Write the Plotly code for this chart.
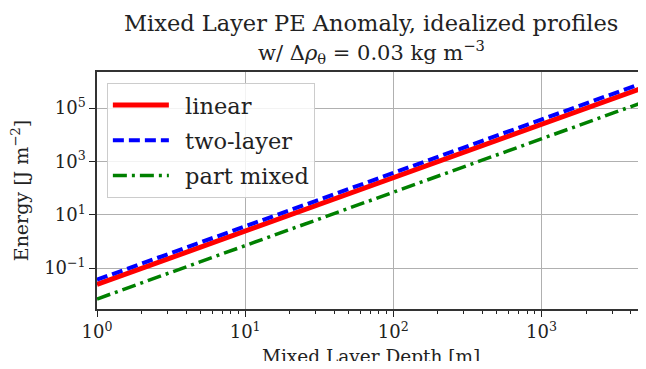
import plotly.graph_objects as go

# Data (log-log straight lines)
depth = [1, 10, 100, 1000, 5000]
linear = [0.0245, 2.45, 245.0, 24500.0, 612500.0]
two_layer = [0.037, 3.7, 370.0, 37000.0, 925000.0]
part_mixed = [0.007, 0.7, 70.0, 7000.0, 175000.0]
series_names = ["\u2002linear", "\u2002two-layer", "\u2002part mixed"]

x_tickvals = [1, 10, 100, 1000]
x_ticktext = ["10<sup>0</sup>", "10<sup>1</sup>", "10<sup>2</sup>", "10<sup>3</sup>"]
y_tickvals = [0.1, 10, 1000, 100000]
y_ticktext = ["10<sup>\u22121</sup>", "10<sup>1</sup>", "10<sup>3</sup>", "10<sup>5</sup>"]

minor_x = []
for dec in [1, 10, 100, 1000]:
    for m in range(2, 10):
        v = dec * m
        if v <= 5000:
            minor_x.append(v)

FONT = "DejaVu Serif"

fig = go.Figure()
fig.add_trace(go.Scatter(x=depth, y=linear, mode="lines", name=series_names[0],
                         legendgroup="a",
                         line=dict(color="#ff0000", width=5)))
fig.add_trace(go.Scatter(x=depth, y=two_layer, mode="lines", name=series_names[1],
                         legendgroup="b",
                         line=dict(color="#0000ff", width=4, dash="11px,5px")))
fig.add_trace(go.Scatter(x=depth, y=part_mixed, mode="lines", name=series_names[2],
                         legendgroup="c",
                         line=dict(color="#008000", width=3.5, dash="14px,5px,3px,5px")))

# The page body has an 8px default margin, so the figure is made smaller
# and margins reduced so the plot lands where the reference has it
# (and no scrollbar appears).
fig.update_layout(
    width=638, height=353,
    margin=dict(l=89, r=1, t=64, b=52, autoexpand=False),
    paper_bgcolor="white", plot_bgcolor="white",
    font=dict(family=FONT, color="#222222", size=16),
    showlegend=True,
    legend=dict(
        x=0.018, y=0.954, xanchor="left", yanchor="top",
        bgcolor="rgba(255,255,255,0.85)", bordercolor="#cccccc", borderwidth=1,
        font=dict(family=FONT, size=22.5, color="#222222"),
        tracegroupgap=3, itemwidth=56,
    ),
    annotations=[
        dict(text="Mixed Layer PE Anomaly, idealized profiles",
             xref="paper", yref="paper", x=0.5, y=1.0, yshift=49,
             xanchor="center", yanchor="middle", showarrow=False,
             font=dict(family=FONT, size=22.5, color="#222222")),
        dict(text="w/ \u0394<i>\u03c1</i><sub>\u03b8</sub> = 0.03 kg m<sup>\u22123</sup>",
             xref="paper", yref="paper", x=0.5, y=1.0, yshift=20,
             xanchor="center", yanchor="middle", showarrow=False,
             font=dict(family=FONT, size=21, color="#222222")),
        dict(text="Mixed Layer Depth [m]",
             xref="paper", yref="paper", x=0.5, y=0.0, yshift=-47,
             xanchor="center", yanchor="middle", showarrow=False,
             font=dict(family=FONT, size=18.5, color="#222222")),
    ],
)

fig.update_xaxes(
    type="log", range=[0, 3.699], automargin=False,
    tickvals=x_tickvals, ticktext=x_ticktext,
    ticks="outside", ticklen=6, tickwidth=1.2, tickcolor="#222222",
    showgrid=True, gridcolor="#b0b0b0", gridwidth=1.3,
    showline=True, linecolor="#333333", linewidth=1.5, mirror=True,
    minor=dict(tickvals=minor_x, ticks="outside", ticklen=3.5, tickwidth=1, tickcolor="#222222", showgrid=False),
    tickfont=dict(family=FONT, size=18),
    zeroline=False,
)
fig.update_yaxes(
    type="log", range=[-2.53, 6.35], automargin=False,
    tickvals=y_tickvals, ticktext=y_ticktext,
    ticks="outside", ticklen=6, tickwidth=1.2, tickcolor="#222222",
    showgrid=True, gridcolor="#b0b0b0", gridwidth=1.3,
    showline=True, linecolor="#333333", linewidth=1.5, mirror=True,
    title=dict(text="Energy [J m<sup>\u22122</sup>]", font=dict(family=FONT, size=19), standoff=14),
    tickfont=dict(family=FONT, size=18),
    zeroline=False,
)

fig.write_html("out.html")
